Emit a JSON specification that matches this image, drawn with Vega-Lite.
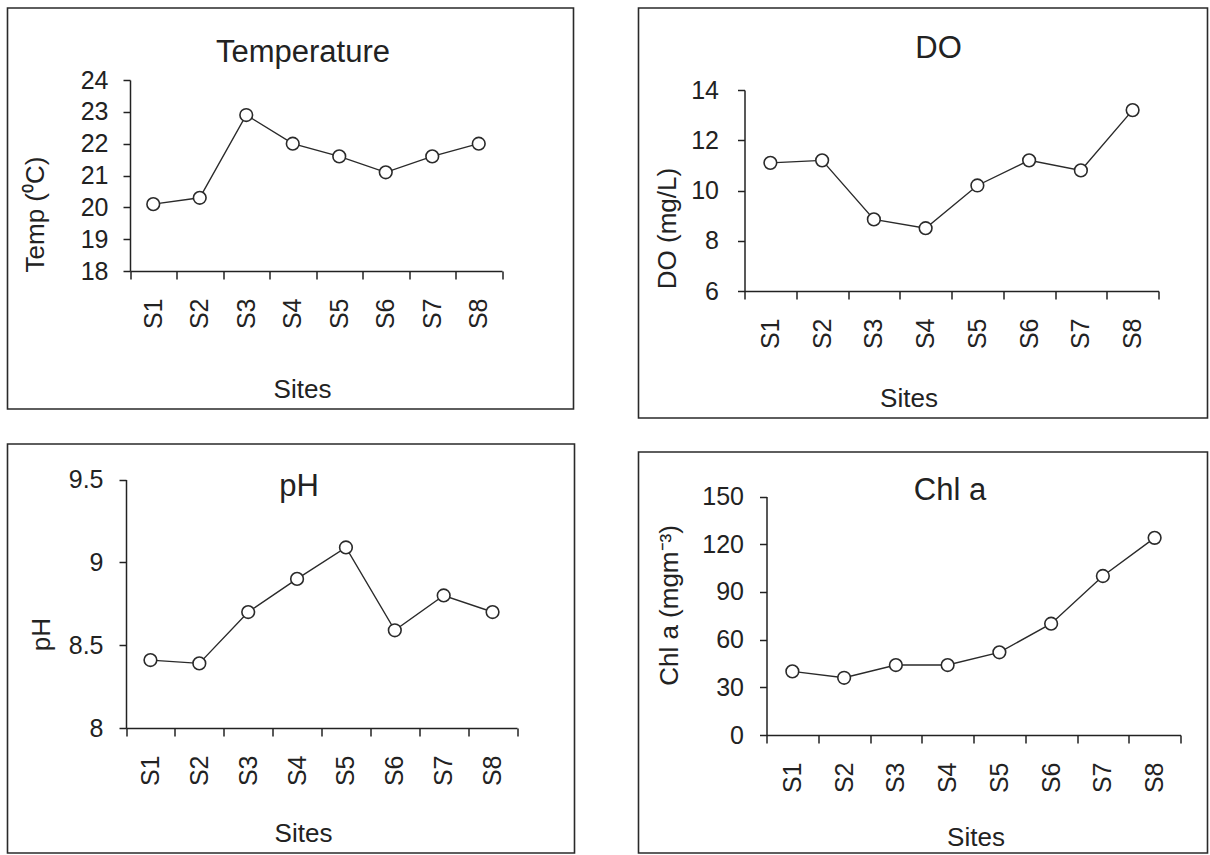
{
  "$schema": "https://vega.github.io/schema/vega-lite/v6.json",
  "padding": {"left": -5.5, "top": 7, "right": 0, "bottom": 0},
  "background": "white",
  "config": {
    "view": {"stroke": "#2a2a2a", "strokeWidth": 1.6},
    "font": "Liberation Sans",
    "axis": {
      "grid": false,
      "domainColor": "#222",
      "domainWidth": 1.5,
      "tickColor": "#222",
      "tickWidth": 1.5,
      "labelFont": "Liberation Sans",
      "labelFontSize": 25,
      "labelColor": "#222",
      "titleFont": "Liberation Sans",
      "titleFontSize": 26,
      "titleFontWeight": "normal",
      "titleColor": "#222"
    },
    "title": {"font": "Liberation Sans", "fontSize": 31, "fontWeight": "normal", "color": "#222"}
  },
  "datasets": {
    "temp": [
      {"site": "S1", "value": 20.1}, {"site": "S2", "value": 20.3}, {"site": "S3", "value": 22.9}, {"site": "S4", "value": 22.0},
      {"site": "S5", "value": 21.6}, {"site": "S6", "value": 21.1}, {"site": "S7", "value": 21.6}, {"site": "S8", "value": 22.0}
    ],
    "do": [
      {"site": "S1", "value": 11.1}, {"site": "S2", "value": 11.2}, {"site": "S3", "value": 8.85}, {"site": "S4", "value": 8.5},
      {"site": "S5", "value": 10.2}, {"site": "S6", "value": 11.2}, {"site": "S7", "value": 10.8}, {"site": "S8", "value": 13.2}
    ],
    "ph": [
      {"site": "S1", "value": 8.41}, {"site": "S2", "value": 8.39}, {"site": "S3", "value": 8.7}, {"site": "S4", "value": 8.9},
      {"site": "S5", "value": 9.09}, {"site": "S6", "value": 8.59}, {"site": "S7", "value": 8.8}, {"site": "S8", "value": 8.7}
    ],
    "chl": [
      {"site": "S1", "value": 40}, {"site": "S2", "value": 36}, {"site": "S3", "value": 44}, {"site": "S4", "value": 44},
      {"site": "S5", "value": 52}, {"site": "S6", "value": 70}, {"site": "S7", "value": 100}, {"site": "S8", "value": 124}
    ]
  },
  "spacing": 50,
  "hconcat": [
    {
      "spacing": 33,
      "vconcat": [
        {
          "width": 566, "height": 401,
          "data": {"name": "temp"},
          "title": {"text": "Temperature", "anchor": "middle", "frame": "group", "baseline": "middle", "offset": -76, "dx": 12.5},
          "encoding": {
            "x": {"field": "site", "type": "nominal", "sort": null,
              "scale": {"type": "band", "range": [122.5, 494.5], "paddingInner": 0, "paddingOuter": 0},
              "axis": {"title": "Sites", "offset": -138, "labelAngle": -90, "tickBand": "extent", "tickSize": 8, "labelPadding": 19,
                "titleX": 294.5, "titleY": 118, "titleAlign": "center", "titleBaseline": "middle"}},
            "y": {"field": "value", "type": "quantitative",
              "scale": {"domain": [18, 24], "range": [263, 72], "zero": false, "nice": false},
              "axis": {"title": "Temp (⁰C)", "offset": -122.5, "values": [18, 19, 20, 21, 22, 23, 24], "tickSize": 7, "labelPadding": 15,
                "titleX": -95, "titleY": 206, "titleAngle": 270, "titleAlign": "center", "titleBaseline": "middle"}}
          },
          "layer": [
            {"mark": {"type": "line", "color": "#2a2a2a", "strokeWidth": 1.4}},
            {"mark": {"type": "point", "shape": "circle", "filled": true, "fill": "white", "stroke": "#2a2a2a", "strokeWidth": 1.6, "size": 160, "opacity": 1}}
          ]
        },
        {
          "width": 567, "height": 409,
          "data": {"name": "ph"},
          "title": {"text": "pH", "anchor": "middle", "frame": "group", "baseline": "middle", "offset": -74, "dx": 8},
          "encoding": {
            "x": {"field": "site", "type": "nominal", "sort": null,
              "scale": {"type": "band", "range": [118.5, 509.5], "paddingInner": 0, "paddingOuter": 0},
              "axis": {"title": "Sites", "offset": -125, "labelAngle": -90, "tickBand": "extent", "tickSize": 8, "labelPadding": 19,
                "titleX": 295.5, "titleY": 105, "titleAlign": "center", "titleBaseline": "middle"}},
            "y": {"field": "value", "type": "quantitative",
              "scale": {"domain": [8, 9.5], "range": [284, 35.5], "zero": false, "nice": false},
              "axis": {"title": "pH", "offset": -118.5, "values": [8, 8.5, 9, 9.5], "format": "~g", "tickSize": 7, "labelPadding": 16,
                "titleX": -85, "titleY": 190, "titleAngle": 270, "titleAlign": "center", "titleBaseline": "middle"}}
          },
          "layer": [
            {"mark": {"type": "line", "color": "#2a2a2a", "strokeWidth": 1.4}},
            {"mark": {"type": "point", "shape": "circle", "filled": true, "fill": "white", "stroke": "#2a2a2a", "strokeWidth": 1.6, "size": 160, "opacity": 1}}
          ]
        }
      ]
    },
    {
      "spacing": 32,
      "vconcat": [
        {
          "width": 569, "height": 410,
          "data": {"name": "do"},
          "title": {"text": "DO", "anchor": "middle", "frame": "group", "baseline": "middle", "offset": -72, "dx": 15.5},
          "encoding": {
            "x": {"field": "site", "type": "nominal", "sort": null,
              "scale": {"type": "band", "range": [106, 520], "paddingInner": 0, "paddingOuter": 0},
              "axis": {"title": "Sites", "offset": -127, "labelAngle": -90, "tickBand": "extent", "tickSize": 8, "labelPadding": 19,
                "titleX": 270, "titleY": 107, "titleAlign": "center", "titleBaseline": "middle"}},
            "y": {"field": "value", "type": "quantitative",
              "scale": {"domain": [6, 14], "range": [283, 82], "zero": false, "nice": false},
              "axis": {"title": "DO (mg/L)", "offset": -106, "values": [6, 8, 10, 12, 14], "tickSize": 7, "labelPadding": 19,
                "titleX": -77, "titleY": 220, "titleAngle": 270, "titleAlign": "center", "titleBaseline": "middle"}}
          },
          "layer": [
            {"mark": {"type": "line", "color": "#2a2a2a", "strokeWidth": 1.4}},
            {"mark": {"type": "point", "shape": "circle", "filled": true, "fill": "white", "stroke": "#2a2a2a", "strokeWidth": 1.6, "size": 160, "opacity": 1}}
          ]
        },
        {
          "width": 569, "height": 401,
          "data": {"name": "chl"},
          "title": {"text": "Chl a", "anchor": "middle", "frame": "group", "baseline": "middle", "offset": -70, "dx": 27},
          "encoding": {
            "x": {"field": "site", "type": "nominal", "sort": null,
              "scale": {"type": "band", "range": [128, 542], "paddingInner": 0, "paddingOuter": 0},
              "axis": {"title": "Sites", "offset": -118, "labelAngle": -90, "tickBand": "extent", "tickSize": 8, "labelPadding": 19,
                "titleX": 337, "titleY": 102, "titleAlign": "center", "titleBaseline": "middle"}},
            "y": {"field": "value", "type": "quantitative",
              "scale": {"domain": [0, 150], "range": [283, 44.5], "zero": false, "nice": false},
              "axis": {"title": "Chl a (mgm⁻³)", "offset": -128, "values": [0, 30, 60, 90, 120, 150], "tickSize": 7, "labelPadding": 16,
                "titleX": -97, "titleY": 153, "titleAngle": 270, "titleAlign": "center", "titleBaseline": "middle"}}
          },
          "layer": [
            {"mark": {"type": "line", "color": "#2a2a2a", "strokeWidth": 1.4}},
            {"mark": {"type": "point", "shape": "circle", "filled": true, "fill": "white", "stroke": "#2a2a2a", "strokeWidth": 1.6, "size": 160, "opacity": 1}}
          ]
        }
      ]
    }
  ]
}
